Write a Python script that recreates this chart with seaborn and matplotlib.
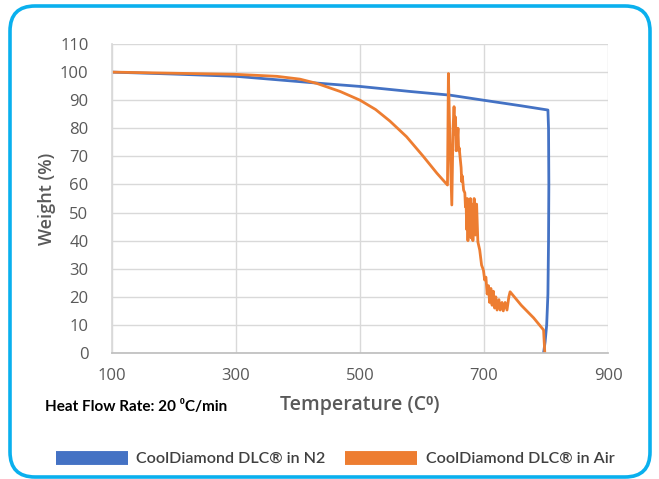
import matplotlib
matplotlib.use("Agg")

import matplotlib.pyplot as plt
import pandas as pd
import seaborn as sns
from matplotlib.lines import Line2D
from matplotlib.patches import FancyBboxPatch


# thermogravimetric curves
temp_n2 = [100, 200, 300, 430, 500, 581, 645, 699, 760, 803,
           804, 804.5, 804, 803, 801, 798.5, 796]
weight_n2 = [100, 99.3, 98.5, 96.1, 94.9, 93.1, 91.8, 90, 88, 86.5,
             80, 60, 40, 21, 10, 4, 0]

temp_air = [100, 200, 300, 366, 403, 430, 468, 500, 525, 548, 575, 602, 624, 641,
            642.5, 645, 648, 650, 651.6, 653, 654, 655, 656.7, 658, 659, 660,
            661, 663, 664, 665, 667, 669, 670, 671, 672, 673, 674, 675, 676,
            677, 678, 679, 681, 682, 684, 686, 688, 690, 693, 696, 699, 701,
            703, 705, 707, 709, 711, 713, 715, 717, 719, 721, 724, 726, 729,
            731, 734, 737, 740, 742, 760, 780, 796, 797, 798]
weight_air = [100, 99.6, 99.2, 98.5, 97.5, 96, 93.1, 90, 86.7, 82.6, 77, 70, 64, 59.8,
              99.5, 75, 52.7, 80, 87.7, 78, 84, 72, 75, 80, 72, 73,
              70.5, 66, 61, 63, 58, 57, 52, 54, 44, 55, 40, 53, 42,
              50, 55, 41, 53, 40, 55, 42, 53, 39.6, 36.7, 31.3, 29.5, 26,
              27, 21, 24, 18, 23, 17, 22, 16, 20, 15.3, 19, 15.3, 18,
              15, 18, 15.3, 20, 21.8, 17, 12.5, 8.2, 4, 0]

series_names = ["CoolDiamond DLC® in N2", "CoolDiamond DLC® in Air"]
series_colors = ["#4472C4", "#ED7D31"]

x_ticks = [100, 300, 500, 700, 900]
y_ticks = list(range(0, 111, 10))

x_label = "Temperature (C⁰)"
y_label = "Weight (%)"
note_text = "Heat Flow Rate: 20 ⁰C/min"


def build_frame() -> pd.DataFrame:
    parts = [
        pd.DataFrame({"temp": temp_n2, "weight": weight_n2, "series": series_names[0]}),
        pd.DataFrame({"temp": temp_air, "weight": weight_air, "series": series_names[1]}),
    ]
    return pd.concat(parts, ignore_index=True)


def main() -> None:
    sns.set_theme(style="white")
    plt.rcParams["font.family"] = ["Open Sans", "DejaVu Sans"]

    df = build_frame()

    fig = plt.figure(figsize=(6.59, 4.79), dpi=100)
    ax = fig.add_axes([0.170, 0.263, 0.7527, 0.6451])

    sns.lineplot(
        data=df,
        x="temp",
        y="weight",
        hue="series",
        palette=dict(zip(series_names, series_colors)),
        sort=False,
        estimator=None,
        linewidth=2,
        legend=False,
        ax=ax,
    )

    ax.set_xlim(100, 900)
    ax.set_ylim(0, 110)
    ax.set_xticks(x_ticks)
    ax.set_yticks(y_ticks)
    ax.grid(True, color="#d9d9d9", linewidth=1)
    ax.set_axisbelow(True)
    ax.tick_params(axis="both", length=0, labelsize=12, labelcolor="#595959")
    ax.tick_params(axis="x", pad=11)
    ax.tick_params(axis="y", pad=17)
    for side in ["top", "right"]:
        ax.spines[side].set_visible(False)
    ax.spines["left"].set_color("#d9d9d9")
    ax.spines["bottom"].set_color("#bfbfbf")

    ax.set_xlabel(x_label, fontsize=14, color="#595959", labelpad=8, fontweight="semibold")
    ax.set_ylabel(y_label, fontsize=13, color="#595959", fontweight="semibold", labelpad=3)

    fig.text(45 / 659, 1 - 407 / 479, note_text, fontsize=11, fontweight="bold",
             color="black", va="center", ha="left",
             family=["Lato", "DejaVu Sans"])

    handles = [Line2D([0], [0], color=c, linewidth=10, solid_capstyle="butt")
               for c in series_colors]
    fig.legend(
        handles,
        series_names,
        loc="center",
        bbox_to_anchor=(335 / 659, 1 - 459 / 479),
        ncol=2,
        frameon=False,
        handlelength=4.5,
        handletextpad=0.5,
        columnspacing=1.2,
        prop={"family": ["Lato", "DejaVu Sans"], "size": 11.6, "weight": "semibold"},
        labelcolor="#404040",
    )

    border = FancyBboxPatch(
        (0.10, 0.02), 6.40, 4.71,
        boxstyle="round,pad=0,rounding_size=0.25",
        transform=fig.dpi_scale_trans,
        facecolor="none",
        edgecolor="#0AB0EE",
        linewidth=2.6,
        clip_on=False,
    )
    fig.add_artist(border)

    fig.savefig("out.png", dpi=100)


if __name__ == "__main__":
    main()
